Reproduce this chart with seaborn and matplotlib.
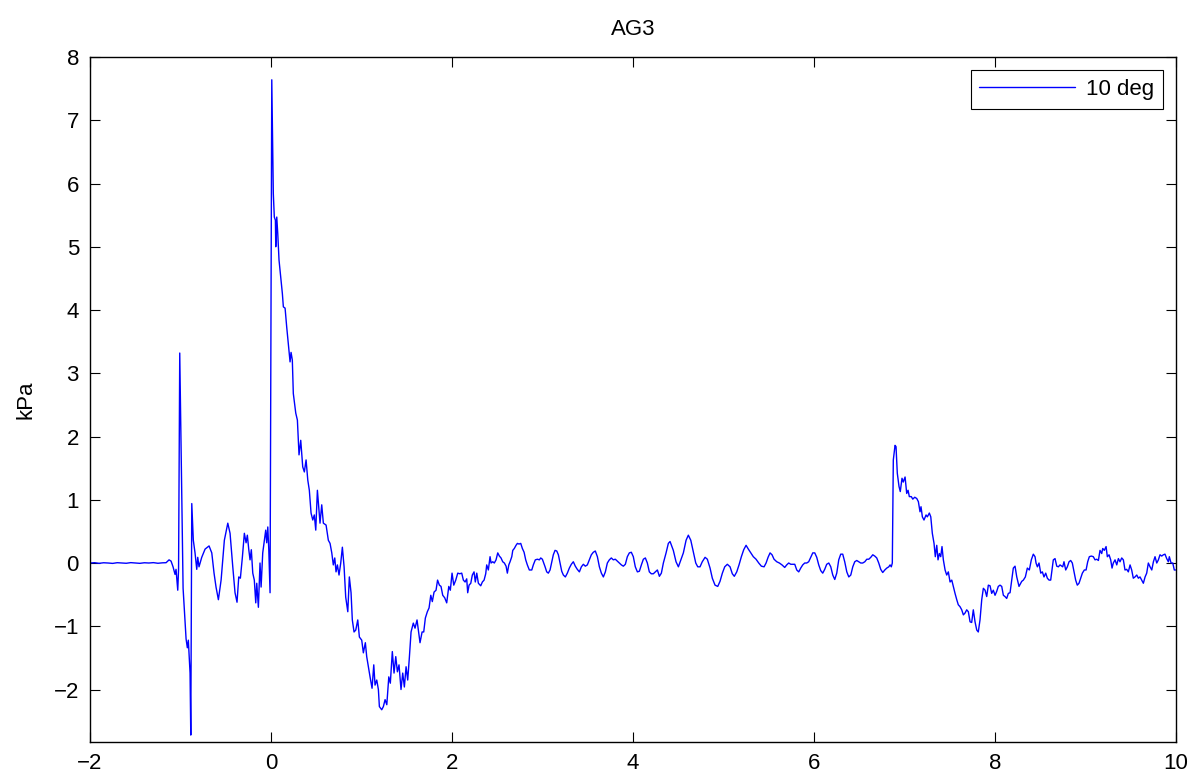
import numpy as np
import pandas as pd
import matplotlib
matplotlib.use("Agg")
import matplotlib.pyplot as plt
import seaborn as sns

# AG3 pressure record, 10 deg case (time in s, pressure in kPa)

# quiet pre-trigger baseline
t_base = [-2.00, -1.95, -1.90, -1.85, -1.80, -1.75, -1.70, -1.65, -1.60, -1.55,
          -1.50, -1.45, -1.40, -1.35, -1.30, -1.25, -1.20, -1.16]
p_base = [0.000, 0.005, -0.005, 0.004, 0.000, -0.006, 0.005, 0.000, -0.004, 0.006,
          0.000, -0.005, 0.004, 0.000, 0.006, -0.004, 0.003, 0.005]

# precursor burst before the main arrival
t_pre = [-1.127, -1.105, -1.083, -1.061, -1.050, -1.031, -1.022, -1.009, -0.972, -0.939,
         -0.925, -0.914, -0.895, -0.887, -0.876, -0.859, -0.840, -0.821, -0.810, -0.796,
         -0.766, -0.729, -0.685, -0.655, -0.630, -0.608, -0.582, -0.552, -0.516, -0.478,
         -0.453, -0.423, -0.398, -0.376, -0.357, -0.339, -0.317, -0.295, -0.276, -0.262,
         -0.246, -0.232, -0.218, -0.202, -0.185, -0.169, -0.158, -0.140, -0.122, -0.110,
         -0.092, -0.074, -0.059, -0.048, -0.036, -0.025, -0.011]
p_pre = [0.05, 0.03, -0.06, -0.18, -0.10, -0.43, -0.10, 3.32, -0.40, -1.20,
         -1.34, -1.22, -1.74, -2.72, 0.94, 0.36, 0.16, -0.10, 0.09, -0.06,
         0.09, 0.22, 0.27, 0.16, -0.16, -0.38, -0.58, -0.27, 0.36, 0.63,
         0.47, -0.06, -0.47, -0.62, -0.22, -0.24, 0.09, 0.47, 0.32, 0.44,
         0.21, 0.05, 0.21, -0.16, -0.27, -0.63, -0.32, -0.70, 0.00, -0.38,
         0.16, 0.36, 0.52, 0.32, 0.57, 0.21, -0.47]

# main pulse and decay into the negative phase
t_main = [0.008, 0.025, 0.036, 0.048, 0.052, 0.063, 0.074, 0.088, 0.107, 0.125,
          0.136, 0.155, 0.173, 0.191, 0.210, 0.221, 0.235, 0.246, 0.273, 0.291,
          0.309, 0.328, 0.350, 0.368, 0.387, 0.406, 0.423, 0.442, 0.461, 0.478,
          0.494, 0.512, 0.527, 0.541, 0.560, 0.578, 0.608, 0.633, 0.652, 0.671,
          0.688, 0.704, 0.718, 0.733, 0.751, 0.770, 0.788, 0.807, 0.825, 0.848,
          0.865, 0.884, 0.898, 0.917, 0.936, 0.958, 0.976, 1.002, 1.020, 1.042,
          1.057, 1.075, 1.094, 1.116, 1.135, 1.149, 1.168, 1.186, 1.197, 1.223,
          1.241, 1.260, 1.279, 1.301, 1.318, 1.340, 1.359, 1.378, 1.396, 1.414,
          1.436, 1.455, 1.473, 1.492, 1.510, 1.528, 1.547, 1.572, 1.591, 1.613,
          1.632, 1.646, 1.669, 1.687, 1.705, 1.727, 1.746, 1.765, 1.782, 1.801,
          1.823, 1.840, 1.860, 1.878, 1.897, 1.919, 1.941, 1.964, 1.981, 2.000,
          2.019, 2.041, 2.063, 2.085]
p_main = [7.64, 5.84, 5.47, 5.42, 5.00, 5.47, 5.21, 4.79, 4.52, 4.26,
          4.05, 4.03, 3.73, 3.47, 3.18, 3.33, 3.21, 2.68, 2.37, 2.26,
          1.71, 1.94, 1.52, 1.44, 1.63, 1.31, 1.15, 0.79, 0.68, 0.76,
          0.52, 1.15, 0.88, 0.63, 0.92, 0.63, 0.60, 0.36, 0.31, 0.16,
          -0.03, 0.08, -0.14, -0.03, -0.19, 0.00, 0.25, -0.06, -0.54, -0.77,
          -0.22, -0.47, -0.90, -1.09, -1.06, -0.90, -1.17, -1.22, -1.42, -1.26,
          -1.48, -1.64, -1.80, -1.98, -1.61, -1.93, -1.85, -2.00, -2.27, -2.32,
          -2.27, -2.16, -2.24, -1.80, -1.90, -1.40, -1.74, -1.48, -1.72, -1.61,
          -2.00, -1.74, -1.96, -1.64, -1.85, -1.50, -1.09, -0.95, -1.03, -0.90,
          -1.11, -1.26, -1.09, -1.09, -0.87, -0.77, -0.71, -0.51, -0.61, -0.46,
          -0.43, -0.27, -0.35, -0.37, -0.51, -0.55, -0.63, -0.37, -0.43, -0.16,
          -0.35, -0.27, -0.16, -0.17]

# settled oscillation between the two events
t_mid = [2.107, 2.125, 2.144, 2.162, 2.173, 2.188, 2.207, 2.224, 2.243, 2.257,
         2.273, 2.291, 2.317, 2.335, 2.354, 2.372, 2.383, 2.401, 2.420, 2.431,
         2.450, 2.467, 2.486, 2.505, 2.523, 2.541, 2.560, 2.578, 2.597, 2.611,
         2.627, 2.641, 2.660, 2.671, 2.688, 2.707, 2.722, 2.740, 2.759, 2.777,
         2.796, 2.814, 2.832, 2.854, 2.881, 2.898, 2.920, 2.943, 2.965, 2.980,
         2.998, 3.013, 3.028, 3.046, 3.064, 3.083, 3.102, 3.119, 3.138, 3.157,
         3.175, 3.193, 3.212, 3.230, 3.252, 3.274, 3.296, 3.318, 3.340, 3.362,
         3.384, 3.407, 3.429, 3.451, 3.473, 3.495, 3.517, 3.539, 3.561, 3.583,
         3.606, 3.628, 3.650, 3.672, 3.694, 3.716, 3.738, 3.760, 3.782, 3.804,
         3.826, 3.849, 3.871, 3.893, 3.915, 3.937, 3.959, 3.981, 4.003, 4.025,
         4.048, 4.070, 4.092, 4.114, 4.136, 4.158, 4.180, 4.202, 4.224, 4.246,
         4.269, 4.291, 4.313, 4.335, 4.365, 4.390, 4.409, 4.445, 4.475, 4.501,
         4.556, 4.586, 4.611, 4.638, 4.666, 4.693, 4.715, 4.740, 4.765, 4.796,
         4.821, 4.851, 4.876, 4.906, 4.936, 4.961, 4.987, 5.013, 5.042, 5.072,
         5.097, 5.119, 5.146, 5.171, 5.197, 5.223, 5.249, 5.274, 5.301, 5.329,
         5.359, 5.389, 5.418, 5.448, 5.470, 5.492, 5.514, 5.536, 5.558, 5.588,
         5.617, 5.646, 5.676, 5.698, 5.720, 5.743, 5.765, 5.787, 5.809, 5.831,
         5.853, 5.875, 5.897, 5.919, 5.941, 5.963, 5.986, 6.008, 6.030, 6.052,
         6.074, 6.096, 6.118, 6.140, 6.163, 6.185, 6.207, 6.229, 6.251, 6.273,
         6.295, 6.317, 6.339, 6.362, 6.384, 6.406, 6.428, 6.450, 6.472, 6.494,
         6.516, 6.538, 6.561, 6.583, 6.605, 6.627, 6.649, 6.671, 6.693, 6.715,
         6.737, 6.759, 6.782, 6.804, 6.826, 6.840, 6.854, 6.865]
p_mid = [-0.16, -0.27, -0.30, -0.25, -0.47, -0.35, -0.32, -0.19, -0.14, -0.30,
         -0.16, -0.32, -0.36, -0.30, -0.27, -0.17, -0.03, -0.11, 0.10, 0.00,
         0.02, 0.00, 0.05, 0.16, 0.11, 0.08, 0.02, 0.00, -0.05, -0.16,
         -0.03, 0.02, 0.10, 0.20, 0.23, 0.28, 0.31, 0.30, 0.31, 0.23,
         0.17, 0.05, -0.03, -0.11, -0.11, -0.03, 0.05, 0.06, 0.05, 0.08,
         0.06, 0.00, -0.06, -0.14, -0.16, -0.11, 0.02, 0.13, 0.20, 0.19,
         0.13, 0.00, -0.13, -0.19, -0.22, -0.16, -0.08, -0.02, 0.02, -0.05,
         -0.10, -0.14, -0.06, -0.02, -0.05, -0.03, 0.05, 0.13, 0.17, 0.19,
         0.10, -0.06, -0.16, -0.22, -0.14, 0.00, 0.05, 0.08, 0.05, 0.06,
         0.03, 0.00, -0.03, -0.05, -0.02, 0.10, 0.16, 0.17, 0.10, -0.06,
         -0.14, -0.13, -0.03, 0.06, 0.08, 0.00, -0.14, -0.17, -0.17, -0.14,
         -0.11, -0.21, -0.16, 0.00, 0.16, 0.31, 0.34, 0.20, 0.02, -0.06,
         0.16, 0.36, 0.44, 0.36, 0.18, 0.00, -0.06, -0.06, 0.02, 0.09,
         0.06, -0.08, -0.24, -0.35, -0.37, -0.29, -0.16, -0.06, -0.02, -0.06,
         -0.17, -0.21, -0.14, -0.03, 0.10, 0.21, 0.28, 0.22, 0.16, 0.10,
         0.06, 0.00, -0.05, -0.06, 0.00, 0.09, 0.16, 0.13, 0.06, 0.02,
         0.00, -0.03, -0.07, -0.03, 0.00, -0.02, -0.02, -0.02, -0.11, -0.14,
         -0.08, -0.03, 0.00, 0.00, 0.02, 0.09, 0.16, 0.16, 0.09, -0.03,
         -0.12, -0.16, -0.10, -0.02, 0.00, -0.06, -0.19, -0.26, -0.16, 0.05,
         0.14, 0.14, 0.02, -0.14, -0.22, -0.19, -0.06, 0.02, 0.04, 0.02,
         0.00, 0.00, 0.02, 0.06, 0.06, 0.09, 0.13, 0.11, 0.08, 0.00,
         -0.10, -0.15, -0.11, -0.08, -0.06, -0.03, -0.06, 0.00]

# second arrival near t = 7 s and its decay
t_late = [6.876, 6.895, 6.906, 6.920, 6.939, 6.953, 6.972, 6.986, 7.006, 7.024,
          7.039, 7.053, 7.075, 7.091, 7.113, 7.135, 7.153, 7.171, 7.182, 7.197,
          7.215, 7.238, 7.252, 7.274, 7.290, 7.307, 7.326, 7.340, 7.356, 7.370,
          7.385, 7.400, 7.414, 7.429, 7.448, 7.466, 7.484, 7.503, 7.522, 7.539,
          7.558, 7.577, 7.594, 7.613, 7.632, 7.650, 7.669, 7.687, 7.705, 7.724,
          7.742, 7.760, 7.779, 7.798, 7.815, 7.834, 7.853, 7.871, 7.890, 7.908,
          7.926, 7.945, 7.963, 7.981, 8.000, 8.018, 8.036, 8.055, 8.074, 8.092,
          8.110, 8.129, 8.147, 8.166, 8.184, 8.202, 8.221, 8.240, 8.265, 8.295,
          8.313, 8.335, 8.357, 8.379, 8.401, 8.423, 8.442, 8.453, 8.468, 8.486,
          8.505, 8.523, 8.541, 8.560, 8.578, 8.597, 8.615, 8.630, 8.644, 8.663,
          8.682, 8.700, 8.718, 8.737, 8.748, 8.762, 8.781, 8.799, 8.818, 8.836,
          8.854, 8.873, 8.891, 8.909, 8.928, 8.946, 8.965, 8.987, 9.006, 9.024,
          9.042, 9.064, 9.086, 9.105, 9.124, 9.142, 9.160, 9.179, 9.190, 9.208,
          9.227, 9.241, 9.260, 9.278, 9.293, 9.307, 9.326, 9.345, 9.363, 9.381,
          9.400, 9.418, 9.436, 9.455, 9.473, 9.492, 9.510, 9.528, 9.547, 9.566,
          9.584, 9.602, 9.621, 9.639, 9.658, 9.676, 9.694, 9.713, 9.732, 9.750,
          9.768, 9.787, 9.805, 9.823, 9.842, 9.860, 9.878, 9.897, 9.915, 9.926,
          9.945, 9.964, 9.981, 9.995]
p_late = [1.63, 1.86, 1.84, 1.42, 1.21, 1.13, 1.34, 1.28, 1.36, 1.10,
          1.15, 1.05, 1.05, 1.01, 1.04, 1.02, 0.97, 0.81, 0.89, 0.73,
          0.68, 0.76, 0.73, 0.79, 0.73, 0.47, 0.31, 0.10, 0.28, 0.05,
          0.15, 0.10, 0.26, 0.05, -0.11, -0.19, -0.14, -0.30, -0.27, -0.37,
          -0.48, -0.58, -0.66, -0.69, -0.74, -0.82, -0.79, -0.74, -0.77, -0.93,
          -0.94, -0.74, -0.93, -1.06, -1.09, -0.90, -0.58, -0.40, -0.43, -0.53,
          -0.35, -0.36, -0.48, -0.43, -0.51, -0.45, -0.37, -0.35, -0.37, -0.51,
          -0.53, -0.56, -0.48, -0.47, -0.27, -0.08, -0.05, -0.22, -0.37, -0.29,
          -0.27, -0.22, -0.08, -0.11, 0.05, 0.14, 0.10, 0.00, -0.06, 0.00,
          -0.16, -0.14, -0.22, -0.16, -0.24, -0.27, -0.27, -0.11, 0.05, 0.07,
          -0.05, -0.06, -0.03, -0.05, -0.06, 0.02, -0.11, -0.06, 0.02, 0.04,
          0.00, -0.14, -0.27, -0.35, -0.32, -0.24, -0.16, -0.11, -0.11, 0.02,
          0.10, 0.11, 0.10, 0.05, 0.06, 0.04, 0.20, 0.15, 0.23, 0.20,
          0.26, 0.10, 0.13, 0.05, -0.08, 0.00, 0.05, -0.03, 0.07, 0.02,
          0.08, 0.05, -0.11, -0.10, -0.14, -0.03, -0.11, -0.24, -0.22, -0.19,
          -0.24, -0.22, -0.27, -0.32, -0.22, -0.16, 0.00, -0.06, -0.11, 0.02,
          0.10, 0.00, 0.05, 0.13, 0.11, 0.13, 0.14, 0.07, 0.02, 0.10,
          0.00, 0.00, -0.11, -0.11]

series_label = "10 deg"
title_text = "AG3"
y_label = "kPa"
x_ticks = [-2, 0, 2, 4, 6, 8, 10]
y_ticks = [-2, -1, 0, 1, 2, 3, 4, 5, 6, 7, 8]

time = np.concatenate([t_base, t_pre, t_main, t_mid, t_late])
pressure = np.concatenate([p_base, p_pre, p_main, p_mid, p_late])
df = pd.DataFrame({"t": time, "kPa": pressure, "case": series_label})

sns.set_style("ticks")
plt.rcParams["font.family"] = ["Liberation Sans", "DejaVu Sans"]
plt.rcParams["axes.unicode_minus"] = True
for key in ("text.color", "axes.labelcolor", "xtick.color", "ytick.color", "axes.edgecolor"):
    plt.rcParams[key] = "black"

FS = 16

fig = plt.figure(figsize=(11.96, 7.80), dpi=100)
ax = fig.add_axes([0.0753, 0.0487, 0.9080, 0.8782])

sns.lineplot(data=df, x="t", y="kPa", hue="case", palette=["#0000ff"],
             sort=False, estimator=None, linewidth=1.0, ax=ax)

ax.set_xlim(-2, 10)
ax.set_ylim(-2.83, 8)
ax.set_xticks(x_ticks)
ax.set_yticks(y_ticks)
ax.set_xlabel("")
ax.set_ylabel(y_label, fontsize=FS, labelpad=12, color="black")
ax.set_title(title_text, fontsize=FS, pad=16, color="black")

for s in ax.spines.values():
    s.set_visible(True)
    s.set_color("black")
    s.set_linewidth(1.0)
ax.tick_params(direction="in", length=7, width=0.8, labelsize=FS,
               top=True, right=True, colors="black", pad=8)

leg = ax.legend(loc="upper right", fontsize=FS, frameon=True, fancybox=False,
                handlelength=4.3, borderaxespad=0.58, borderpad=0.4,
                handletextpad=0.5)
leg.get_frame().set_edgecolor("black")
leg.get_frame().set_linewidth(0.8)
leg.get_frame().set_alpha(1.0)
for txt in leg.get_texts():
    txt.set_color("black")

fig.savefig("out.png", dpi=100, facecolor="white")
